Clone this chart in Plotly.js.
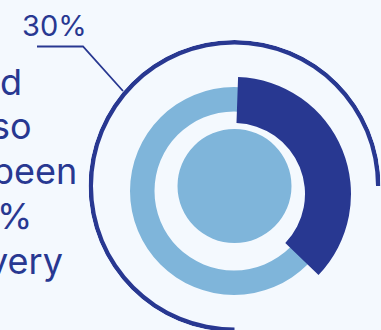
<!DOCTYPE html>
<html>
<head>
<meta charset="utf-8">
<script src="https://cdn.plot.ly/plotly-3.0.1.min.js"></script>
<style>
html,body{margin:0;padding:0;overflow:hidden;background:#f4f9fe;}
#chart{width:381px;height:340px;}
</style>
</head>
<body>
<div id="chart"></div>
<script>
// ---- data ----
const TEXT_LINES = ['d', 'so', 'been', '%', 'very'];
const LABEL_TEXT = ['30%'];
const HIGHLIGHT_SHARE = [36.6]; // dark arc, percent of full circle as drawn
const RING_SHARE = [100];       // light ring, full circle
const CORE_SHARE = [100];       // centre disc, full circle
const OUTER_SHARE = [75];       // thin outer arc, percent of circle

// ---- styles / geometry ----
const DARK = '#283891', LIGHT = '#7fb5da', BG = '#f4f9fe';
const FONT = 'Inter';
const W = 381, H = 340;

function dom(cx, cy, R) {
  return { x: [(cx - R) / W, (cx + R) / W], y: [1 - (cy + R) / H, 1 - (cy - R) / H] };
}
function deg(p) { return p * 3.6; }
function polarAx(R, d) {
  return {
    domain: d, bgcolor: 'rgba(0,0,0,0)',
    radialaxis: { range: [0, R], visible: false },
    angularaxis: { visible: false, rotation: 90, direction: 'clockwise' }
  };
}

const traces = [
  // centre disc
  { type: 'barpolar', subplot: 'polar', base: [0], r: [57], theta: [180], width: [deg(CORE_SHARE[0])],
    marker: { color: LIGHT, line: { width: 0 } }, hoverinfo: 'skip' },
  // thin outer arc: from 6 o'clock clockwise
  { type: 'barpolar', subplot: 'polar', base: [141.5], r: [4.5],
    theta: [180 + deg(OUTER_SHARE[0]) / 2], width: [deg(OUTER_SHARE[0])],
    marker: { color: DARK, line: { width: 0 } }, hoverinfo: 'skip' },
  // light ring
  { type: 'barpolar', subplot: 'polar2', base: [79.5], r: [24.5], theta: [180], width: [deg(RING_SHARE[0])],
    marker: { color: LIGHT, line: { width: 0 } }, hoverinfo: 'skip' },
  // dark highlighted arc
  { type: 'barpolar', subplot: 'polar3', base: [71], r: [46],
    theta: [2 + deg(HIGHLIGHT_SHARE[0]) / 2], width: [deg(HIGHLIGHT_SHARE[0])],
    marker: { color: DARK, line: { width: 0 } }, hoverinfo: 'skip' }
];

const TS = 36;
const lineRight = [24, 34, 79, 34, 65];
const lineBase = [95, 139, 184.5, 229.5, 274.5];
const annotations = TEXT_LINES.map((t, i) => ({
  text: t, xref: 'paper', yref: 'paper', x: lineRight[i] / W, y: 1 - (lineBase[i] - TS * 0.364) / H,
  xanchor: 'right', yanchor: 'middle', showarrow: false,
  font: { family: FONT, size: TS, color: DARK }
}));
annotations.push({
  text: LABEL_TEXT[0], xref: 'paper', yref: 'paper', x: 20 / W, y: 1 - (36 - 29 * 0.364) / H,
  xanchor: 'left', yanchor: 'middle', showarrow: false,
  font: { family: FONT, size: 29, color: DARK }
});

function px(x) { return (x / W).toFixed(5); }
function py(y) { return (1 - y / H).toFixed(5); }

const layout = {
  width: W, height: H, margin: { l: 0, r: 0, t: 0, b: 0 },
  paper_bgcolor: BG, plot_bgcolor: BG, showlegend: false,
  polar: polarAx(146, dom(234.5, 186, 146)),
  polar2: polarAx(110, dom(234, 191, 110)),
  polar3: polarAx(120, dom(234, 194, 120)),
  annotations: annotations,
  shapes: [{
    type: 'path', xref: 'paper', yref: 'paper',
    path: `M ${px(37)},${py(46.5)} L ${px(83)},${py(46.5)} L ${px(123)},${py(91)}`,
    line: { color: DARK, width: 1.8 }
  }]
};

Plotly.newPlot('chart', traces, layout, { displayModeBar: false, staticPlot: true });
</script>
</body>
</html>
